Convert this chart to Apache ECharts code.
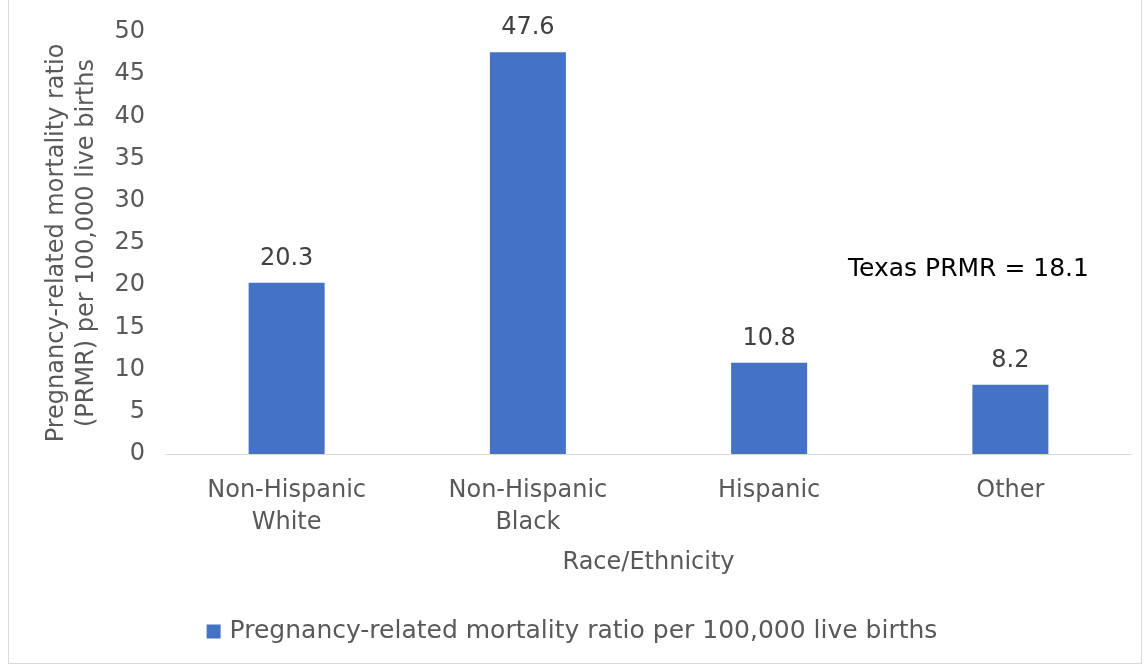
<!DOCTYPE html>
<html>
<head>
<meta charset="utf-8">
<title>PRMR by race/ethnicity</title>
<script src="https://cdn.jsdelivr.net/npm/echarts@6/dist/echarts.min.js"></script>
<style>
  html, body { margin: 0; padding: 0; background: #fff; }
  #chart { width: 1144px; height: 671px; }
  .frame { position: absolute; left: 8px; top: -1px; width: 1134px; height: 665px; border: 1px solid #d9d9d9; box-sizing: border-box; pointer-events: none; }
</style>
</head>
<body>
<div id="chart"></div>
<div class="frame"></div>
<script>
var categories = ['Non-Hispanic\nWhite', 'Non-Hispanic\nBlack', 'Hispanic', 'Other'];
var values = [20.3, 47.6, 10.8, 8.2];
var seriesName = 'Pregnancy-related mortality ratio per 100,000 live births';
var note = 'Texas PRMR = 18.1';

var font = '"DejaVu Sans"';
var grey = '#595959';
var fs = 24;

var chart = echarts.init(document.getElementById('chart'));
chart.setOption({
  animation: false,
  textStyle: { fontFamily: font },
  grid: { left: 166, right: 13, top: 32, bottom: 217 },
  legend: {
    data: [seriesName],
    bottom: 22, left: 'center',
    icon: 'rect', itemWidth: 14, itemHeight: 14, itemGap: 6,
    textStyle: { color: grey, fontSize: 25, fontFamily: font, padding: [0, 0, 0, 4] }
  },
  xAxis: {
    type: 'category',
    data: categories,
    name: 'Race/Ethnicity',
    nameLocation: 'middle',
    nameGap: 97,
    nameTextStyle: { color: grey, fontSize: fs, fontFamily: font },
    axisLine: { lineStyle: { color: '#d9d9d9' } },
    axisTick: { show: false },
    axisLabel: { color: grey, fontSize: fs, lineHeight: 32, margin: 21, fontFamily: font }
  },
  yAxis: {
    type: 'value',
    min: 0, max: 50, interval: 5,
    name: 'Pregnancy-related mortality ratio\n(PRMR) per 100,000 live births',
    nameLocation: 'middle',
    nameGap: 64,
    nameTextStyle: { color: grey, fontSize: fs, lineHeight: 30, fontFamily: font },
    axisLine: { show: false },
    axisTick: { show: false },
    splitLine: { show: false },
    axisLabel: { color: grey, fontSize: fs, margin: 21, fontFamily: font }
  },
  series: [{
    name: seriesName,
    type: 'bar',
    data: values,
    barWidth: 76,
    itemStyle: { color: '#4472C4' },
    label: { show: true, position: 'top', distance: 12, color: '#404040', fontSize: fs, fontFamily: font }
  }],
  graphic: [{
    type: 'text', left: 848, top: 257,
    style: { text: note, fill: '#000', fontSize: 25, fontFamily: font }
  }]
});
</script>
</body>
</html>
